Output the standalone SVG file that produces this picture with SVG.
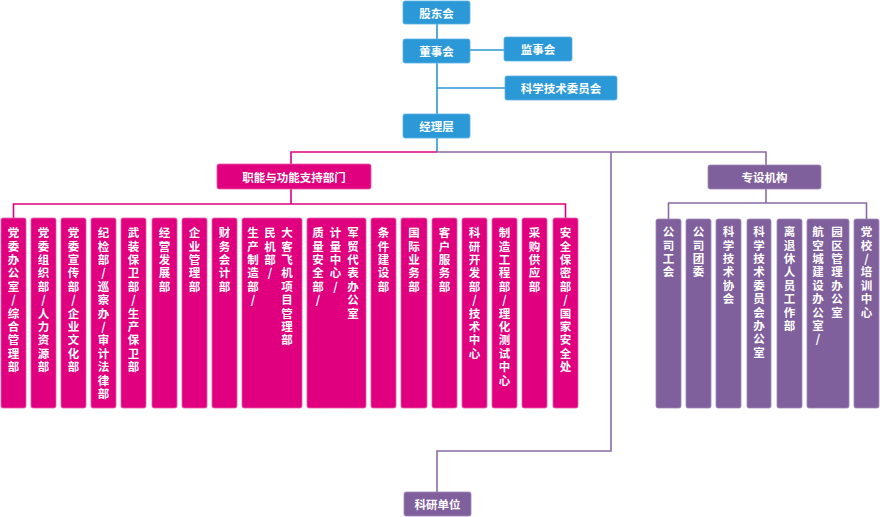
<svg xmlns="http://www.w3.org/2000/svg" width="880" height="517" viewBox="0 0 880 517">
<style>
.b{fill:#2b98d8;stroke:#5cb2e3;stroke-width:0.8}
.m{fill:#e0007f;stroke:#ec5aa8;stroke-width:0.8}
.p{fill:#7f5f9c;stroke:#a088b5;stroke-width:0.8}
.h{font-family:"Noto Sans CJK SC","Noto Sans",sans-serif;font-size:11.5px;font-weight:bold;fill:#fff;text-anchor:middle;dominant-baseline:central}
.v{font-family:"Noto Sans CJK SC","Noto Sans",sans-serif;font-size:11.5px;font-weight:bold;fill:#fff;writing-mode:vertical-rl;text-orientation:upright;letter-spacing:1.9px}
.cb{stroke:#2b98d8;stroke-width:1.6;fill:none}
.cm{stroke:#e0007f;stroke-width:1.6;fill:none}
.cp{stroke:#8a6ba6;stroke-width:1.6;fill:none}
</style>
<g id="connectors">
<path class="cb" d="M437 24V114M437 138V152M470 50H504M437 88H505"/>
<path class="cm" d="M437 152H291V164M291 189V204M13.5 218V204H565.5V218"/>
<path class="cp" d="M437 152H766V165M766 189V203M668.5 219V203H866.5V219M611 152V451H437V492"/>
</g>
<g id="n-gdh"><rect class="b" x="403" y="1" width="67" height="23" rx="2"/><text class="h" x="436.5" y="12.5">股东会</text></g>
<g id="n-dsh"><rect class="b" x="403" y="39" width="67" height="24" rx="2"/><text class="h" x="436.5" y="51">董事会</text></g>
<g id="n-jsh"><rect class="b" x="504" y="37" width="68" height="24" rx="2"/><text class="h" x="538" y="49">监事会</text></g>
<g id="n-kxjs"><rect class="b" x="505" y="76" width="112" height="24" rx="2"/><text class="h" x="561" y="88">科学技术委员会</text></g>
<g id="n-jlc"><rect class="b" x="403" y="114" width="67" height="24" rx="2"/><text class="h" x="436.5" y="126">经理层</text></g>
<g id="n-zn"><rect class="m" x="217" y="164" width="154" height="25" rx="2"/><text class="h" x="294" y="176.5">职能与功能支持部门</text></g>
<g id="n-zs"><rect class="p" x="708" y="165" width="113" height="24" rx="2"/><text class="h" x="764.5" y="177">专设机构</text></g>
<g id="n-kydw"><rect class="p" x="404" y="492" width="67" height="24" rx="2"/><text class="h" x="437.5" y="504">科研单位</text></g>

<g id="m1"><rect class="m" x="1" y="218" width="25" height="190" rx="2"/><text class="v" x="13.5" y="227">党委办公室/综合管理部</text></g>
<g id="m2"><rect class="m" x="31" y="218" width="25" height="190" rx="2"/><text class="v" x="43.5" y="227">党委组织部/人力资源部</text></g>
<g id="m3"><rect class="m" x="61" y="218" width="25" height="190" rx="2"/><text class="v" x="73.5" y="227">党委宣传部/企业文化部</text></g>
<g id="m4"><rect class="m" x="91" y="218" width="25" height="190" rx="2"/><text class="v" x="103.5" y="227">纪检部/巡察办/审计法律部</text></g>
<g id="m5"><rect class="m" x="121" y="218" width="25" height="190" rx="2"/><text class="v" x="133.5" y="227">武装保卫部/生产保卫部</text></g>
<g id="m6"><rect class="m" x="152" y="218" width="25" height="190" rx="2"/><text class="v" x="164.5" y="227">经营发展部</text></g>
<g id="m7"><rect class="m" x="182" y="218" width="25" height="190" rx="2"/><text class="v" x="194.5" y="227">企业管理部</text></g>
<g id="m8"><rect class="m" x="212" y="218" width="25" height="190" rx="2"/><text class="v" x="224.5" y="227">财务会计部</text></g>
<g id="m9"><rect class="m" x="242" y="218" width="60" height="190" rx="2"/><text class="v" x="287" y="227">大客飞机项目管理部</text><text class="v" x="270" y="227">民机部/</text><text class="v" x="253" y="227">生产制造部/</text></g>
<g id="m10"><rect class="m" x="307" y="218" width="59" height="190" rx="2"/><text class="v" x="353" y="227">军贸代表办公室</text><text class="v" x="335.5" y="227">计量中心/</text><text class="v" x="318" y="227">质量安全部/</text></g>
<g id="m11"><rect class="m" x="371" y="218" width="25" height="190" rx="2"/><text class="v" x="383.5" y="227">条件建设部</text></g>
<g id="m12"><rect class="m" x="401" y="218" width="26" height="190" rx="2"/><text class="v" x="414" y="227">国际业务部</text></g>
<g id="m13"><rect class="m" x="432" y="218" width="25" height="190" rx="2"/><text class="v" x="444.5" y="227">客户服务部</text></g>
<g id="m14"><rect class="m" x="462" y="218" width="25" height="190" rx="2"/><text class="v" x="474.5" y="227">科研开发部/技术中心</text></g>
<g id="m15"><rect class="m" x="492" y="218" width="25" height="190" rx="2"/><text class="v" x="504.5" y="227">制造工程部/理化测试中心</text></g>
<g id="m16"><rect class="m" x="522" y="218" width="25" height="190" rx="2"/><text class="v" x="534.5" y="227">采购供应部</text></g>
<g id="m17"><rect class="m" x="553" y="218" width="25" height="190" rx="2"/><text class="v" x="565.5" y="227">安全保密部/国家安全处</text></g>

<g id="p1"><rect class="p" x="656" y="219" width="25" height="189" rx="2"/><text class="v" x="668.5" y="226">公司工会</text></g>
<g id="p2"><rect class="p" x="686" y="219" width="25" height="189" rx="2"/><text class="v" x="698.5" y="226">公司团委</text></g>
<g id="p3"><rect class="p" x="716" y="219" width="25" height="189" rx="2"/><text class="v" x="728.5" y="226">科学技术协会</text></g>
<g id="p4"><rect class="p" x="747" y="219" width="24" height="189" rx="2"/><text class="v" x="759" y="226">科学技术委员会办公室</text></g>
<g id="p5"><rect class="p" x="777" y="219" width="25" height="189" rx="2"/><text class="v" x="789.5" y="226">离退休人员工作部</text></g>
<g id="p6"><rect class="p" x="807" y="219" width="42" height="189" rx="2"/><text class="v" x="837" y="226">园区管理办公室</text><text class="v" x="818" y="226">航空城建设办公室/</text></g>
<g id="p7"><rect class="p" x="854" y="219" width="25" height="189" rx="2"/><text class="v" x="866.5" y="226">党校/培训中心</text></g>
</svg>
